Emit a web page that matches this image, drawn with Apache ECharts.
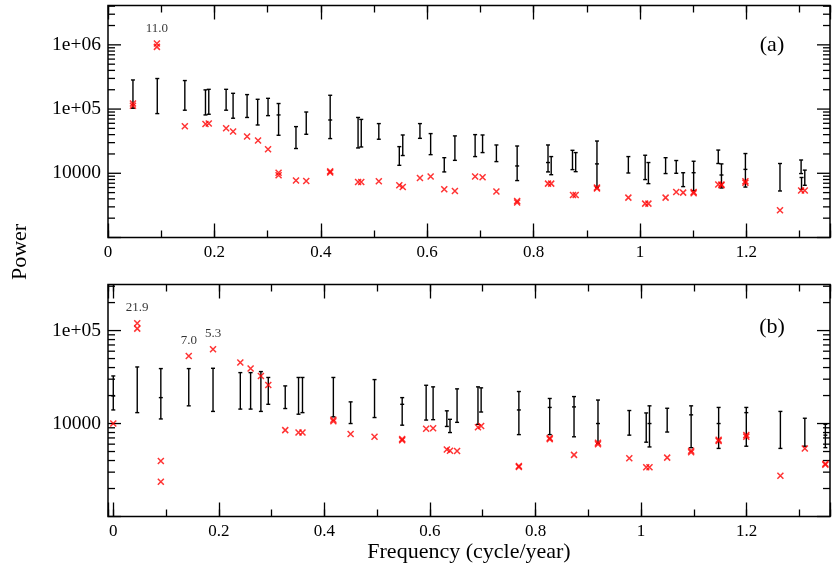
<!DOCTYPE html>
<html>
<head>
<meta charset="utf-8">
<style>
html, body { margin: 0; padding: 0; background: #fff; }
#chart { width: 833px; height: 569px; }
</style>
<script src="https://cdn.jsdelivr.net/npm/echarts@6.0.0/dist/echarts.min.js"></script>
</head>
<body>
<div id="chart"></div>
<script>
// ---------- Panel (a): observed power (red crosses) ----------
const aRedFreq  = [0.0469, 0.0469, 0.0919, 0.0919, 0.1444, 0.1832, 0.1894, 0.222, 0.2351, 0.2614,
                   0.282, 0.3008, 0.3206, 0.3206, 0.3533, 0.3726, 0.4176, 0.4176, 0.470, 0.476,
                   0.509, 0.5475, 0.554, 0.5863, 0.6064, 0.632, 0.652, 0.690, 0.704, 0.730,
                   0.769, 0.769, 0.827, 0.833, 0.874, 0.879, 0.919, 0.919, 0.978, 1.0096,
                   1.0157, 1.048, 1.068, 1.081, 1.1007, 1.1007, 1.147, 1.153, 1.153, 1.198,
                   1.198, 1.263, 1.3027, 1.3096];
const aRedPower = [1.22e5, 1.13e5, 1.05e6, 9.3e5, 5.4e4, 5.87e4, 5.98e4, 5.02e4, 4.47e4, 3.73e4,
                   3.23e4, 2.37e4, 1.02e4, 9.3e3, 7.7e3, 7.6e3, 1.07e4, 1.03e4, 7.3e3, 7.3e3,
                   7.5e3, 6.5e3, 6.1e3, 8.45e3, 8.9e3, 5.64e3, 5.3e3, 8.9e3, 8.7e3, 5.2e3,
                   3.7e3, 3.5e3, 6.9e3, 6.9e3, 4.6e3, 4.6e3, 6.0e3, 5.8e3, 4.18e3, 3.37e3,
                   3.37e3, 4.18e3, 5.1e3, 5.0e3, 5.1e3, 4.9e3, 6.7e3, 6.7e3, 6.5e3, 7.5e3,
                   7.1e3, 2.66e3, 5.4e3, 5.4e3];
// peak annotations: index into the red arrays -> text
const aPeakText = { 2: '11.0' };

// ---------- Panel (a): simulated range (black error bars) ----------
const aBarFreq = [0.0469, 0.0926, 0.1444, 0.1832, 0.1894, 0.222, 0.2351, 0.2614, 0.2813, 0.3008,
                  0.3206, 0.3533, 0.3726, 0.4176, 0.470, 0.476, 0.509, 0.5475, 0.554, 0.5863,
                  0.6064, 0.632, 0.652, 0.690, 0.704, 0.730, 0.769, 0.827, 0.833, 0.873,
                  0.879, 0.919, 0.978, 1.0096, 1.0157, 1.048, 1.068, 1.081, 1.1007, 1.147,
                  1.153, 1.198, 1.263, 1.3027, 1.3035, 1.3096];
const aBarLow  = [1.03e5, 8.5e4, 9.6e4, 8.1e4, 8.3e4, 9.6e4, 7.2e4, 7.4e4, 5.65e4, 7.9e4,
                  3.91e4, 2.43e4, 4.05e4, 3.47e4, 2.48e4, 2.57e4, 3.39e4, 1.33e4, 1.89e4, 3.5e4,
                  1.95e4, 1.05e4, 1.59e4, 1.82e4, 2.1e4, 1.52e4, 7.7e3, 1.05e4, 9.5e3, 1.14e4,
                  1.06e4, 6.0e3, 1.01e4, 7.98e3, 6.9e3, 9.9e3, 1.0e4, 6.2e3, 5.37e3, 1.42e4,
                  5.9e3, 6.1e3, 5.3e3, 9.9e3, 5.6e3, 6.5e3];
const aBarHigh = [2.84e5, 2.99e5, 2.78e5, 1.99e5, 2.03e5, 2.03e5, 1.76e5, 1.68e5, 1.42e5, 1.47e5,
                  1.22e5, 5.33e4, 9.0e4, 1.64e5, 7.4e4, 6.9e4, 5.94e4, 2.6e4, 3.95e4, 5.94e4,
                  4.15e4, 1.75e4, 3.82e4, 4.0e4, 3.95e4, 2.76e4, 2.66e4, 2.76e4, 1.82e4, 2.28e4,
                  2.1e4, 3.18e4, 1.82e4, 1.91e4, 1.47e4, 1.75e4, 1.58e4, 1.02e4, 1.54e4, 2.3e4,
                  1.4e4, 2.03e4, 1.42e4, 1.61e4, 8.6e3, 1.12e4];
const aBarMid  = [null, null, null, null, null, null, null, null, null, null,
                  8.1e4, null, null, 6.76e4, null, null, null, null, null, null,
                  null, null, null, null, null, null, 1.3e4, 1.47e4, null, null,
                  null, 1.4e4, null, null, null, null, null, null, 1.02e4, null,
                  9.4e3, 1.15e4, null, null, null, null];

// ---------- Panel (b): observed power (red crosses) ----------
const bRedFreq  = [0.0, 0.0454, 0.0454, 0.0901, 0.0901, 0.143, 0.189, 0.2407, 0.2602, 0.2797,
                   0.2937, 0.3258, 0.351, 0.3585, 0.417, 0.417, 0.4497, 0.495, 0.5474, 0.5474,
                   0.5928, 0.606, 0.632, 0.638, 0.6514, 0.691, 0.697, 0.7685, 0.7685, 0.827,
                   0.827, 0.873, 0.9184, 0.9184, 0.9777, 1.0098, 1.016, 1.0495, 1.0949, 1.0949,
                   1.147, 1.147, 1.1994, 1.1994, 1.264, 1.3103, 1.3492, 1.3492];
const bRedPower = [1.0e4, 1.2e5, 1.05e5, 3.96e3, 2.36e3, 5.33e4, 6.3e4, 4.53e4, 3.9e4, 3.25e4,
                   2.6e4, 8.5e3, 8.0e3, 8.0e3, 1.1e4, 1.06e4, 7.7e3, 7.2e3, 6.8e3, 6.6e3,
                   8.8e3, 8.9e3, 5.25e3, 5.1e3, 5.07e3, 9.1e3, 9.4e3, 3.5e3, 3.4e3, 7.0e3,
                   6.8e3, 4.6e3, 6.2e3, 6.0e3, 4.24e3, 3.39e3, 3.39e3, 4.3e3, 5.1e3, 4.9e3,
                   6.7e3, 6.5e3, 7.5e3, 7.2e3, 2.74e3, 5.4e3, 3.7e3, 3.6e3];
const bPeakText = { 1: '21.9', 5: '7.0', 6: '5.3' };

// ---------- Panel (b): simulated range (black error bars) ----------
const bBarFreq = [0.0, 0.0454, 0.0901, 0.143, 0.189, 0.2407, 0.2602, 0.2797, 0.2937, 0.3258,
                  0.351, 0.3585, 0.417, 0.4497, 0.495, 0.5474, 0.5928, 0.606, 0.632, 0.638,
                  0.6514, 0.691, 0.697, 0.7685, 0.827, 0.873, 0.9184, 0.9777, 1.0098, 1.016,
                  1.0495, 1.0949, 1.147, 1.1994, 1.264, 1.3103, 1.3492];
const bBarLow  = [1.4e4, 1.31e4, 1.12e4, 1.55e4, 1.35e4, 1.43e4, 1.43e4, 1.35e4, 1.61e4, 1.45e4,
                  1.26e4, 1.31e4, 1.18e4, 1.0e4, 1.16e4, 9.6e3, 1.09e4, 1.1e4, 9.3e3, 8.0e3,
                  1.03e4, 9.8e3, 1.33e4, 7.6e3, 7.6e3, 7.2e3, 6.1e3, 7.5e3, 6.3e3, 5.6e3,
                  8.1e3, 5.5e3, 5.4e3, 5.7e3, 5.4e3, 5.7e3, 5.5e3];
const bBarHigh = [3.25e4, 4.06e4, 3.9e4, 3.9e4, 3.93e4, 3.53e4, 3.53e4, 3.62e4, 3.13e4, 2.54e4,
                  3.13e4, 3.13e4, 3.13e4, 1.71e4, 2.97e4, 1.9e4, 2.58e4, 2.48e4, 1.37e4, 1.11e4,
                  2.36e4, 2.48e4, 2.42e4, 2.21e4, 1.86e4, 1.95e4, 1.79e4, 1.38e4, 1.3e4, 1.55e4,
                  1.46e4, 1.55e4, 1.49e4, 1.49e4, 1.35e4, 1.14e4, 9.8e3];
const bBarMid  = [1.98e4, null, 1.9e4, null, null, null, null, null, null, null,
                  null, null, null, null, null, 1.61e4, null, null, null, null,
                  null, null, null, 1.4e4, 1.49e4, 1.51e4, 1.0e4, null, null, 1.0e4,
                  null, 1.24e4, 1.0e4, 1.31e4, null, null, 7.5e3];

// ---------- Axis ranges and tick labels ----------
const aFreqRange = [0, 1.357];
const bFreqRange = [-0.01, 1.358];
const aPowerRange = [1000, 4.1e6];
const bPowerRange = [1000, 3.13e5];
const xTickLabels = [0, 0.2, 0.4, 0.6, 0.8, 1, 1.2];
const aYTickLabels = [[1e4, '10000'], [1e5, '1e+05'], [1e6, '1e+06']];
const bYTickLabels = [[1e4, '10000'], [1e5, '1e+05']];

const FONT = '"Liberation Serif", "Times New Roman", Times, serif';

function xLabel(v) {
  for (const t of xTickLabels) if (Math.abs(v - t) < 1e-6) return String(t);
  return '';
}
function yLabeler(list) {
  return function (v) {
    for (const [t, s] of list) if (Math.abs(v / t - 1) < 1e-6) return s;
    return '';
  };
}

// log-scale tick values (1..9 x 10^k) inside a range, flagged major on decades
function logTickData(range) {
  const out = [];
  for (let k = 2; k <= 7; k++) {
    for (let m = 1; m <= 9; m++) {
      const v = m * Math.pow(10, k);
      if (v >= range[0] * 0.9999 && v <= range[1] * 1.0001) out.push([0, v, m === 1 ? 1 : 0]);
    }
  }
  return out;
}

// inward ticks on the left and right frame edges
function logTickItem(params, api) {
  const cs = params.coordSys;
  const y = api.coord([api.value(0), api.value(1)])[1];
  const len = api.value(2) ? 13 : 7;
  const st = { stroke: '#000', lineWidth: 1.3 };
  return {
    type: 'group',
    children: [
      { type: 'line', shape: { x1: cs.x, y1: y, x2: cs.x + len, y2: y }, style: st },
      { type: 'line', shape: { x1: cs.x + cs.width - len, y1: y, x2: cs.x + cs.width, y2: y }, style: st }
    ]
  };
}

// vertical error bar with end caps and an optional centre mark
function errorBarItem(params, api) {
  const x = api.value(0), lo = api.value(1), hi = api.value(2), mid = api.value(3);
  const pLo = api.coord([x, lo]);
  const pHi = api.coord([x, hi]);
  const cap = 2;
  const st = { stroke: '#000', lineWidth: 1.4 };
  const children = [
    { type: 'line', shape: { x1: pLo[0], y1: pLo[1], x2: pHi[0], y2: pHi[1] }, style: st },
    { type: 'line', shape: { x1: pLo[0] - cap, y1: pLo[1], x2: pLo[0] + cap, y2: pLo[1] }, style: st },
    { type: 'line', shape: { x1: pHi[0] - cap, y1: pHi[1], x2: pHi[0] + cap, y2: pHi[1] }, style: st }
  ];
  if (!isNaN(mid) && mid > 0) {
    const pm = api.coord([x, mid]);
    children.push({ type: 'line', shape: { x1: pm[0] - cap, y1: pm[1], x2: pm[0] + cap, y2: pm[1] }, style: st });
  }
  return { type: 'group', children };
}

function barData(fx, lo, hi, mid) {
  return fx.map((f, i) => [f, lo[i], hi[i], mid[i] == null ? '-' : mid[i]]);
}

function redData(fx, py, peaks) {
  return fx.map((f, i) => {
    if (peaks[i] === undefined) return [f, py[i]];
    return {
      value: [f, py[i]],
      label: {
        show: true, formatter: peaks[i], position: 'top', distance: 5,
        fontFamily: FONT, fontSize: 13, color: '#000'
      }
    };
  });
}

const CROSS = 'path://M0,0L10,10M10,0L0,10';

function xAxisPair(gridIndex, range, opts) {
  // major axis (0.2 steps, long ticks) and minor axis (0.1 steps, short ticks)
  const base = {
    type: 'value', gridIndex, min: range[0], max: range[1],
    axisLine: { show: false }, splitLine: { show: false }
  };
  const major = Object.assign({}, base, {
    axisTick: { show: true, inside: true, length: 14, lineStyle: { color: '#000', width: 1.3 } }
  }, opts.major);
  const minor = Object.assign({}, base, {
    axisTick: { show: true, inside: true, length: 7, lineStyle: { color: '#000', width: 1.3 } },
    axisLabel: { show: false }
  }, opts.minor);
  return [major, minor];
}

const labelStyleX = { show: true, formatter: xLabel, fontFamily: FONT, fontSize: 17, color: '#000', margin: 7 };

// panel (a): fixed min 0, so explicit intervals are safe
const aBottom = xAxisPair(0, aFreqRange, {
  major: { position: 'bottom', interval: 0.2, axisLabel: labelStyleX },
  minor: { position: 'bottom', interval: 0.1 }
});
const aTop = xAxisPair(0, aFreqRange, {
  major: { position: 'top', interval: 0.2, axisLabel: { show: false } },
  minor: { position: 'top', interval: 0.1 }
});
// panel (b): min sits just left of 0, so let the nice-step logic place ticks
const bBottom = xAxisPair(1, bFreqRange, {
  major: {
    position: 'bottom', splitNumber: 7, axisLabel: labelStyleX,
    name: 'Frequency (cycle/year)', nameLocation: 'middle', nameGap: 21,
    nameTextStyle: { fontFamily: FONT, fontSize: 22, color: '#000' }
  },
  minor: { position: 'bottom', splitNumber: 14 }
});
const bTop = xAxisPair(1, bFreqRange, {
  major: { position: 'top', splitNumber: 7, axisLabel: { show: false } },
  minor: { position: 'top', splitNumber: 14 }
});

const xAxes = [aBottom[0], aBottom[1], aTop[0], aTop[1], bBottom[0], bBottom[1], bTop[0], bTop[1]];

const yBase = {
  type: 'log', logBase: 10,
  axisLine: { show: false }, axisTick: { show: false }, splitLine: { show: false }, minorTick: { show: false }
};
const yAxes = [
  Object.assign({}, yBase, {
    gridIndex: 0, min: aPowerRange[0], max: aPowerRange[1],
    axisLabel: { formatter: yLabeler(aYTickLabels), fontFamily: FONT, fontSize: 19.5, color: '#000', margin: 7 }
  }),
  Object.assign({}, yBase, {
    gridIndex: 1, min: bPowerRange[0], max: bPowerRange[1],
    axisLabel: { formatter: yLabeler(bYTickLabels), fontFamily: FONT, fontSize: 19.5, color: '#000', margin: 7 }
  })
];

const gridStyle = { show: true, borderColor: '#000', borderWidth: 1.5, backgroundColor: 'transparent' };

const option = {
  animation: false,
  backgroundColor: '#fff',
  grid: [
    Object.assign({ left: 108, top: 5.5, width: 724, height: 232 }, gridStyle),
    Object.assign({ left: 108, top: 284.5, width: 724, height: 232 }, gridStyle)
  ],
  xAxis: xAxes,
  yAxis: yAxes,
  graphic: [
    { type: 'text', x: 772, y: 45, style: { text: '(a)', font: '22px ' + FONT, fill: '#000', textAlign: 'center', textVerticalAlign: 'middle' } },
    { type: 'text', x: 772, y: 327, style: { text: '(b)', font: '22px ' + FONT, fill: '#000', textAlign: 'center', textVerticalAlign: 'middle' } },
    { type: 'text', x: 20, y: 252, rotation: Math.PI / 2, style: { text: 'Power', font: '22px ' + FONT, fill: '#000', textAlign: 'center', textVerticalAlign: 'middle' } }
  ],
  series: [
    {
      type: 'custom', name: 'ticks-a', xAxisIndex: 0, yAxisIndex: 0, silent: true, z: 1,
      renderItem: logTickItem, data: logTickData(aPowerRange), encode: { x: 0, y: 1 }
    },
    {
      type: 'custom', name: 'ticks-b', xAxisIndex: 4, yAxisIndex: 1, silent: true, z: 1,
      renderItem: logTickItem, data: logTickData(bPowerRange), encode: { x: 0, y: 1 }
    },
    {
      type: 'custom', name: 'range-a', xAxisIndex: 0, yAxisIndex: 0, silent: true, z: 2,
      renderItem: errorBarItem, data: barData(aBarFreq, aBarLow, aBarHigh, aBarMid), encode: { x: 0, y: [1, 2] }
    },
    {
      type: 'custom', name: 'range-b', xAxisIndex: 4, yAxisIndex: 1, silent: true, z: 2,
      renderItem: errorBarItem, data: barData(bBarFreq, bBarLow, bBarHigh, bBarMid), encode: { x: 0, y: [1, 2] }
    },
    {
      type: 'scatter', name: 'power-a', xAxisIndex: 0, yAxisIndex: 0, z: 3,
      symbol: CROSS, symbolSize: 6,
      itemStyle: { color: 'rgba(0,0,0,0)', borderColor: '#ff0000', borderWidth: 1.5 },
      data: redData(aRedFreq, aRedPower, aPeakText)
    },
    {
      type: 'scatter', name: 'power-b', xAxisIndex: 4, yAxisIndex: 1, z: 3,
      symbol: CROSS, symbolSize: 6,
      itemStyle: { color: 'rgba(0,0,0,0)', borderColor: '#ff0000', borderWidth: 1.5 },
      data: redData(bRedFreq, bRedPower, bPeakText)
    }
  ]
};

const chart = echarts.init(document.getElementById('chart'), null, { renderer: 'canvas' });
chart.setOption(option);
</script>
</body>
</html>
